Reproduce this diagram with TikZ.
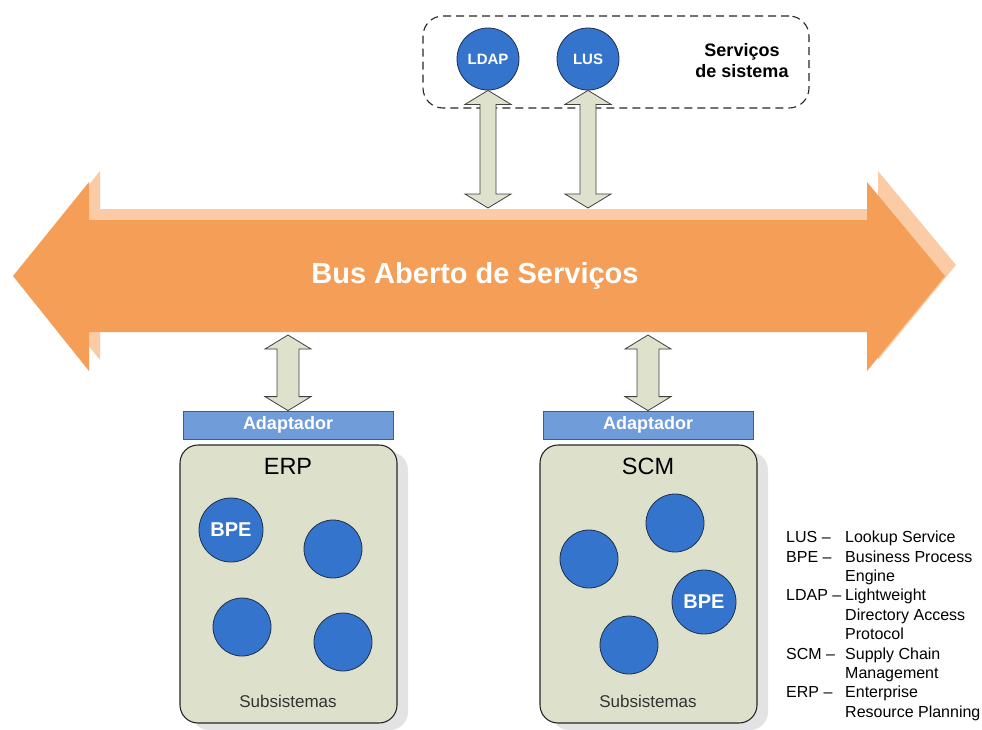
\documentclass[tikz,border=0pt]{standalone}
\usepackage{fontspec}
\setmainfont{Liberation Sans}
\usetikzlibrary{calc,shadows}

\definecolor{busorange}{HTML}{F49E57}
\definecolor{busshade}{HTML}{FACBA4}
\definecolor{svcblue}{HTML}{3474CC}
\definecolor{svcedge}{HTML}{1F2F4A}
\definecolor{boxfill}{HTML}{DDE1CB}
\definecolor{boxshade}{HTML}{E3E3E3}
\definecolor{adaptfill}{HTML}{709CDA}
\definecolor{adaptedge}{HTML}{3F5C8C}
\definecolor{arrfill}{HTML}{DEE2CD}

% outline of the bus arrow
\newcommand{\busoutline}{(13,276) -- (89,182) -- (89,220) -- (867,220) -- (867,182) -- (945,276) -- (867,371) -- (867,332) -- (89,332) -- (89,371) -- cycle}

% block double arrow from #2 (top) down to #3 (bottom), shaft half width #1
\newcommand{\dblarrow}[3][9]{%
  \draw[dblarr] (#2) -- ($(#2)+(23,14)$) -- ($(#2)+(#1,14)$) -- ($(#3)+(#1,-14)$) -- ($(#3)+(23,-14)$) -- (#3)
    -- ($(#3)+(-23,-14)$) -- ($(#3)+(-#1,-14)$) -- ($(#2)+(-#1,14)$) -- ($(#2)+(-23,14)$) -- cycle;}

\begin{document}
\begin{tikzpicture}[x=1pt,y=-1pt,
    svc/.style={circle,fill=svcblue,draw=svcedge,line width=0.8pt,minimum size=58pt,inner sep=0pt,
      text=white,font=\fontsize{20}{22}\selectfont\bfseries},
    topsvc/.style={svc,minimum size=62pt,font=\fontsize{15}{17}\selectfont\bfseries},
    dblarr/.style={fill=arrfill,draw=black!75,line width=0.8pt,line join=miter},
    adapter/.style={rectangle,fill=adaptfill,draw=adaptedge,line width=0.8pt,minimum width=210pt,minimum height=28pt,
      inner sep=0pt,text=white,font=\fontsize{18}{20}\selectfont\bfseries},
    sysbox/.style={rectangle,rounded corners=18pt,fill=boxfill,draw=black!85,line width=1.1pt,
      minimum width=217pt,minimum height=278pt,
      drop shadow={shadow xshift=11pt,shadow yshift=-7pt,fill=boxshade,opacity=1}},
    dashbox/.style={rectangle,rounded corners=20pt,draw=black!85,line width=1.1pt,dash pattern=on 8pt off 5pt,
      minimum width=386pt,minimum height=92pt}]
\useasboundingbox (0,0) rectangle (982,729);

% bus
\fill[busshade,shift={(11,-11)}] \busoutline;
\fill[busorange] \busoutline;
\node[text=white,font=\fontsize{29}{32}\selectfont\bfseries] (bus) at (475,276) {Bus Aberto de Serviços};
\coordinate (bustop) at (0,208);
\coordinate (busbot) at (0,335);

% system services
\node[dashbox] (sysgroup) at (616,62) {};
\node[topsvc] (ldap) at (488,59) {LDAP};
\node[topsvc] (lus) at (588,59) {LUS};
\node[align=center,font=\fontsize{18}{21}\selectfont\bfseries] (syslabel) at (742,61) {Serviços\\de sistema};
\coordinate (ldapbus) at (ldap.south |- bustop);
\coordinate (lusbus) at (lus.south |- bustop);
\dblarrow[8]{ldap.south}{ldapbus}
\dblarrow[8]{lus.south}{lusbus}

% ERP
\node[sysbox] (erp) at (288.5,584) {};
\node[adapter] (adperp) at (288,425) {Adaptador};
\node[font=\fontsize{23.5}{26}\selectfont] (erplabel) at (288,466) {ERP};
\node[svc,minimum size=64pt] (erpbpe) at (231,530) {BPE};
\node[svc] (erpa) at (333,549) {};
\node[svc] (erpb) at (242,627) {};
\node[svc] (erpc) at (343,642) {};
\node[text=black!80,font=\fontsize{17}{19}\selectfont] (erpsub) at (288,701) {Subsistemas};
\coordinate (erpbus) at (adperp.north |- busbot);
\dblarrow[11]{erpbus}{adperp.north}

% SCM
\node[sysbox] (scm) at (648.5,584) {};
\node[adapter] (adpscm) at (648,425) {Adaptador};
\node[font=\fontsize{23.5}{26}\selectfont] (scmlabel) at (648,466) {SCM};
\node[svc] (scma) at (589,559) {};
\node[svc] (scmb) at (675,523) {};
\node[svc,minimum size=64pt] (scmbpe) at (704,602) {BPE};
\node[svc] (scmc) at (629,645) {};
\node[text=black!80,font=\fontsize{17}{19}\selectfont] (scmsub) at (648,701) {Subsistemas};
\coordinate (scmbus) at (adpscm.north |- busbot);
\dblarrow[11]{scmbus}{adpscm.north}

% legend
\node[anchor=north west,inner sep=0pt,font=\fontsize{16}{19.4}\selectfont] (legend) at (786,529) {%
  \begin{tabular}{@{}p{59pt}@{}l@{}}
  LUS – & Lookup Service\\
  BPE – & Business Process\\
        & Engine\\
  LDAP – & Lightweight\\
        & Directory Access\\
        & Protocol\\
  SCM – & Supply Chain\\
        & Management\\
  ERP – & Enterprise\\
        & Resource Planning
  \end{tabular}};
\end{tikzpicture}
\end{document}
